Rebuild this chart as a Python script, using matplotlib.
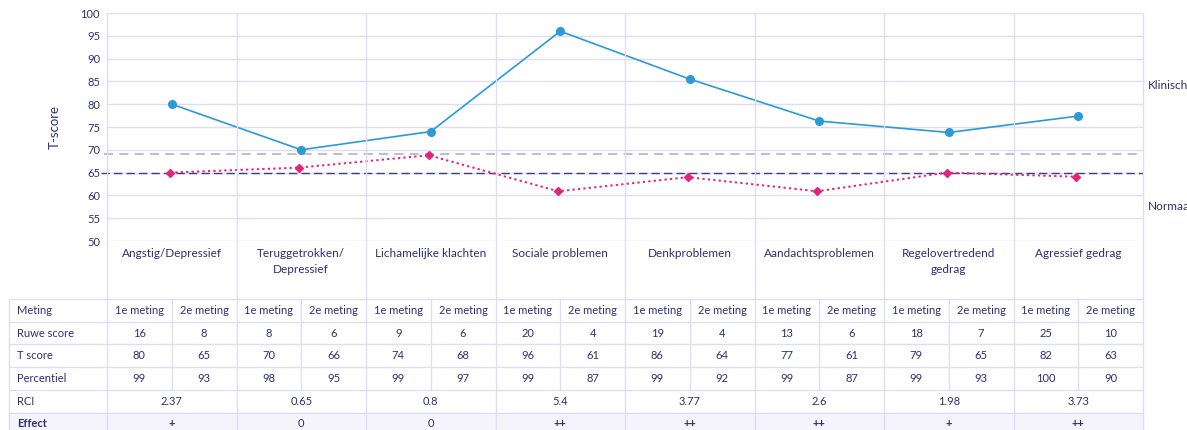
import matplotlib.pyplot as plt
import numpy as np

plt.rcParams["font.family"] = ["Lato", "DejaVu Sans"]

categories = [
    "Angstig/Depressief",
    "Teruggetrokken/\nDepressief",
    "Lichamelijke klachten",
    "Sociale problemen",
    "Denkproblemen",
    "Aandachtsproblemen",
    "Regelovertredend\ngedrag",
    "Agressief gedrag",
]
# values as drawn in the chart
t_plot_1 = [80, 70, 74, 96, 85.5, 76.3, 73.8, 77.4]
t_plot_2 = [65, 66.1, 68.8, 60.9, 64, 60.9, 65, 64.1]
clinical_line = 69
normal_line = 65

# table values
meting = ["1e meting", "2e meting"]
ruwe_1 = [16, 8, 9, 20, 19, 13, 18, 25]
ruwe_2 = [8, 6, 6, 4, 4, 6, 7, 10]
tscore_1 = [80, 70, 74, 96, 86, 77, 79, 82]
tscore_2 = [65, 66, 68, 61, 64, 61, 65, 63]
perc_1 = [99, 98, 99, 99, 99, 99, 99, 100]
perc_2 = [93, 95, 97, 87, 92, 87, 93, 90]
rci = ["2.37", "0.65", "0.8", "5.4", "3.77", "2.6", "1.98", "3.73"]
effect = ["+", "0", "0", "++", "++", "++", "+", "++"]
row_labels = ["Meting", "Ruwe score", "T score", "Percentiel", "RCI", "Effect"]

NAVY = "#2e2f72"
GRID = "#dedcf6"
BLUE = "#2b9ad8"
PINK = "#e0267c"

W, H = 1187, 430
fig = plt.figure(figsize=(W / 100, H / 100), dpi=100)

# layout in pixels
x_left, x_right = 107, 1143
y_top, y_bottom = 13, 241
tab_left, tab_top, row_h = 9, 299, 22.7
n = len(categories)
col_w = (x_right - x_left) / n
edges = x_left + col_w * np.arange(n + 1)
centers = edges[:-1] + col_w / 2

ax = fig.add_axes([x_left / W, 1 - y_bottom / H, (x_right - x_left) / W, (y_bottom - y_top) / H])
ax.set_xlim(0, n)
ax.set_ylim(50, 100)
ax.set_yticks(range(50, 101, 5))
ax.set_xticks([])
for s in ax.spines.values():
    s.set_visible(False)
ax.tick_params(axis="y", length=0, pad=5, labelsize=8, labelcolor=NAVY)
ax.grid(axis="y", color=GRID, linewidth=1)
ax.set_axisbelow(True)
ax.set_ylabel("T-score", color=NAVY, fontsize=9.5, labelpad=14)

xs = np.arange(n) + 0.5
ax.axhline(clinical_line, xmin=-0.003, xmax=0.998, color="#acacbd", lw=1.1,
           dashes=(6, 4), clip_on=False, zorder=2)
ax.axhline(normal_line, xmin=-0.006, xmax=1.0, color="#3d3d7c", lw=1.0,
           dashes=(6, 3), clip_on=False, zorder=2)
ax.plot(xs, t_plot_1, color=BLUE, lw=1.2, marker="o", ms=5.5, zorder=4, clip_on=False)
ax.plot(xs - 0.015, t_plot_2, color=PINK, lw=1.4, ls=(0, (1.2, 1.6)), marker="D",
        ms=4, zorder=4, clip_on=False)

ax.text(1.005, (84 - 50) / 50, "Klinisch", transform=ax.transAxes, color=NAVY,
        fontsize=8.5, va="center", ha="left", clip_on=False)
ax.text(1.005, (57.6 - 50) / 50, "Normaal", transform=ax.transAxes, color=NAVY,
        fontsize=8.5, va="center", ha="left", clip_on=False)

# overlay in pixel coordinates for column lines, labels and table
ov = fig.add_axes([0, 0, 1, 1])
ov.set_xlim(0, W)
ov.set_ylim(H, 0)
ov.axis("off")
ov.patch.set_alpha(0)

n_rows = len(row_labels)
rows_y = tab_top + row_h * np.arange(n_rows + 1)
tab_bottom = rows_y[-1]

# effect row background
ov.fill_between([tab_left, x_right], rows_y[-2], tab_bottom, color="#f5f4fd", zorder=0)

ov.vlines(edges, y_top, tab_bottom, color=GRID, lw=1, zorder=1)
ov.vlines(tab_left, tab_top, tab_bottom, color=GRID, lw=1, zorder=1)
ov.vlines(centers, tab_top, rows_y[4], color=GRID, lw=1, zorder=1)
ov.hlines(rows_y, tab_left, x_right, color=GRID, lw=1, zorder=1)

for cx, name in zip(centers, categories):
    ov.text(cx, 248, name, ha="center", va="top", color=NAVY, fontsize=8.5,
            linespacing=1.55)

for i, lab in enumerate(row_labels):
    yc = (rows_y[i] + rows_y[i + 1]) / 2
    ov.text(tab_left + 8, yc, lab, ha="left", va="center", color=NAVY, fontsize=8,
            fontweight="bold" if lab == "Effect" else "normal")

for i in range(n):
    left_c = edges[i] + col_w / 4
    right_c = edges[i] + 3 * col_w / 4
    values = [
        (meting[0], meting[1]),
        (ruwe_1[i], ruwe_2[i]),
        (tscore_1[i], tscore_2[i]),
        (perc_1[i], perc_2[i]),
    ]
    for r, (a, b) in enumerate(values):
        yc = (rows_y[r] + rows_y[r + 1]) / 2
        ov.text(left_c, yc, str(a), ha="center", va="center", color=NAVY, fontsize=8)
        ov.text(right_c, yc, str(b), ha="center", va="center", color=NAVY, fontsize=8)
    ov.text(centers[i], (rows_y[4] + rows_y[5]) / 2, rci[i], ha="center", va="center",
            color=NAVY, fontsize=8)
    ov.text(centers[i], (rows_y[5] + rows_y[6]) / 2, effect[i], ha="center", va="center",
            color=NAVY, fontsize=8,
            fontweight="normal" if effect[i] == "0" else "bold")

fig.savefig("out.png", dpi=100, facecolor="white")
